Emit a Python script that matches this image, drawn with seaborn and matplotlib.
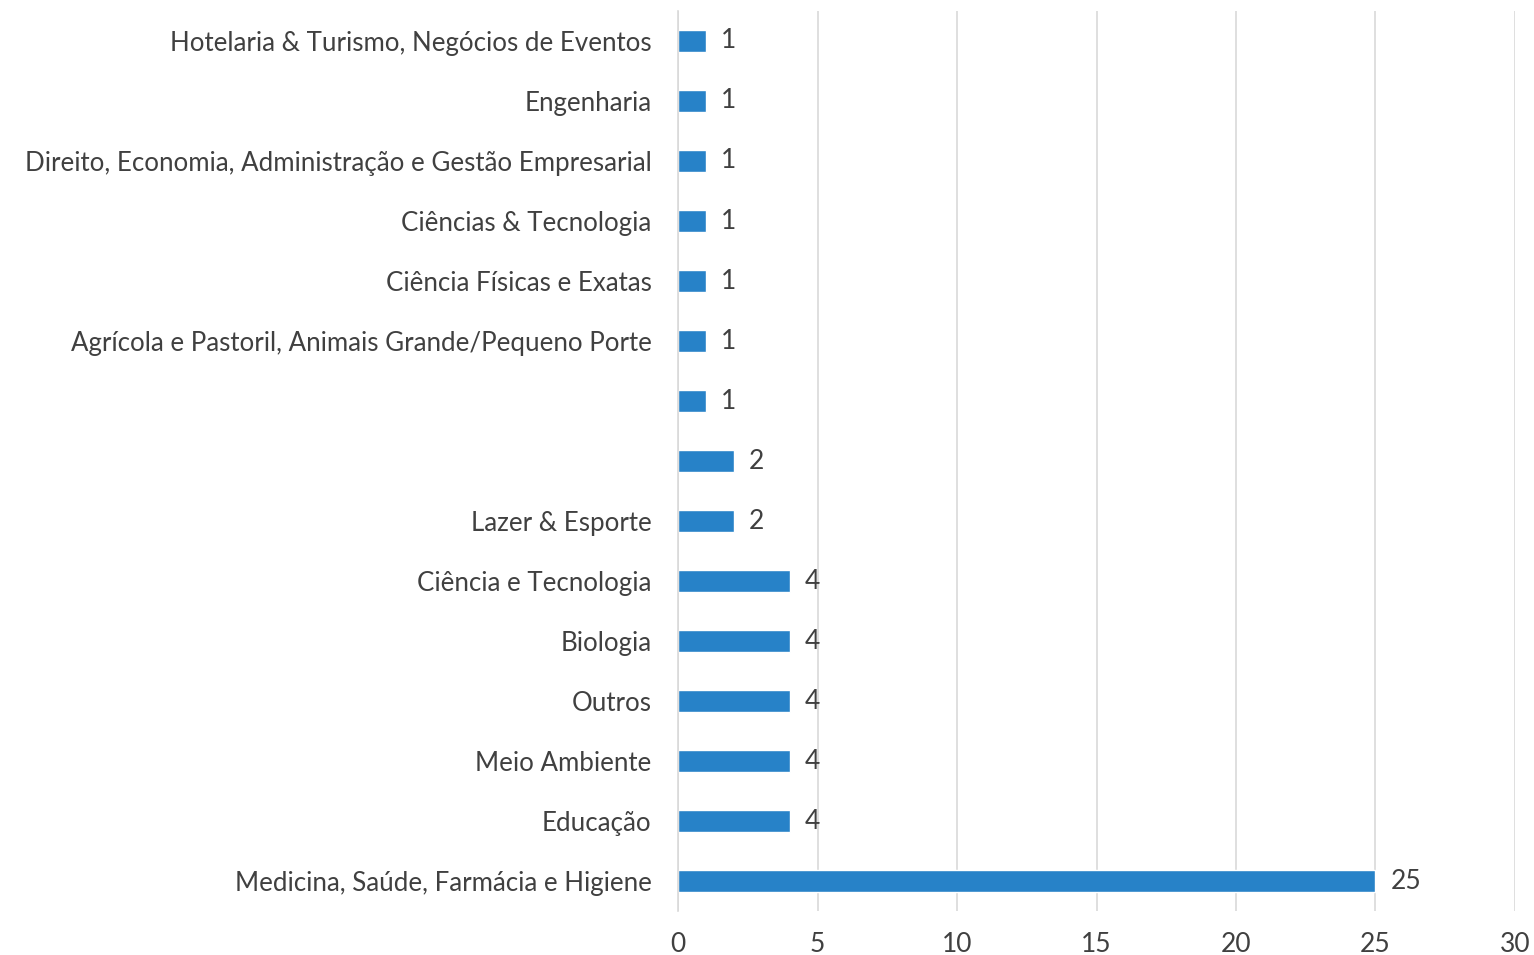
import seaborn as sns
import matplotlib.pyplot as plt
import pandas as pd

# --- Data (top to bottom) ---
categories = [
    "Hotelaria & Turismo, Negócios de Eventos",
    "Engenharia",
    "Direito, Economia, Administração e Gestão Empresarial",
    "Ciências & Tecnologia",
    "Ciência Físicas e Exatas",
    "Agrícola e Pastoril, Animais Grande/Pequeno Porte",
    "",
    " ",
    "Lazer & Esporte",
    "Ciência e Tecnologia",
    "Biologia",
    "Outros",
    "Meio Ambiente",
    "Educação",
    "Medicina, Saúde, Farmácia e Higiene",
]
counts = [1, 1, 1, 1, 1, 1, 1, 2, 2, 4, 4, 4, 4, 4, 25]
x_ticks = [0, 5, 10, 15, 20, 25, 30]

df = pd.DataFrame({"categoria": categories, "total": counts})

# --- Styling ---
sns.set_style("white")
plt.rcParams["font.family"] = ["Lato", "DejaVu Sans"]
text_color = "#404040"
bar_color = "#2782C8"

fig = plt.figure(figsize=(15.34, 9.55), dpi=100)
ax = fig.add_axes([0.442, 0.046, 0.5456, 0.9425])

sns.barplot(data=df, x="total", y="categoria", order=categories,
            color=bar_color, width=0.36, saturation=1, ax=ax)

ax.bar_label(ax.containers[0], padding=11, fontsize=19, color=text_color)

ax.set_xlim(0, 30)
ax.set_xticks(x_ticks)
ax.set_ylim(len(categories) - 0.5, -0.5)
ax.set_xlabel("")
ax.set_ylabel("")
ax.grid(axis="x", color="#D9D9D9", linewidth=1.2)
ax.set_axisbelow(True)
for s in ["top", "right", "bottom"]:
    ax.spines[s].set_visible(False)
ax.spines["left"].set_color("#D9D9D9")
ax.spines["left"].set_linewidth(1.2)
ax.tick_params(axis="both", length=0, labelsize=19, labelcolor=text_color)
ax.tick_params(axis="y", labelsize=18.6, pad=19)
ax.tick_params(axis="x", pad=15)

fig.savefig("out.png", dpi=100)
